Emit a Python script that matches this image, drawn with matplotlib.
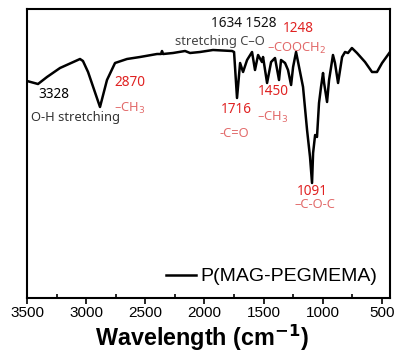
import matplotlib
matplotlib.use("Agg")
import matplotlib.pyplot as plt

# FTIR spectrum of P(MAG-PEGMEMA)
wavenumber = [3500, 3407, 3331, 3221, 3052, 3027, 2984, 2883, 2824, 2756, 2655, 2545,
              2401, 2367, 2359, 2350, 2266, 2164, 2122, 2038, 1928, 1767, 1750, 1725,
              1699, 1674, 1640, 1598, 1573, 1547, 1514, 1505, 1471, 1437, 1404, 1370,
              1353, 1319, 1294, 1268, 1251, 1226, 1209, 1167, 1133, 1108, 1091, 1082,
              1065, 1049, 1032, 1015, 998, 989, 964, 947, 914, 897, 871, 837, 812, 787,
              754, 711, 643, 584, 542, 499, 432]
transmittance = [217, 214, 221, 230, 239, 237, 226, 191, 218, 235, 239, 241,
                 244, 244, 247, 244, 245, 247, 245, 246, 248, 247, 246, 200,
                 235, 226, 238, 246, 228, 243, 236, 241, 215, 236, 240, 218,
                 238, 235, 228, 213, 231, 246, 236, 211, 168, 141, 115, 145,
                 163, 161, 195, 211, 225, 215, 196, 218, 243, 235, 215, 241, 246, 245,
                 250, 245, 236, 226, 226, 235, 246]

peak_labels = ["3328", "2870", "1634 1528", "1248", "1716", "1450", "1091"]
group_labels = ["O-H stretching", "\u2013CH$_3$", "stretching C\u2013O", "\u2013COOCH$_2$",
                "-C=O", "\u2013CH$_3$", "\u2013C-O-C"]
series_name = "P(MAG-PEGMEMA)"
xticks = [3500, 3000, 2500, 2000, 1500, 1000, 500]

W, H = 397, 360
fig = plt.figure(figsize=(W / 100, H / 100), dpi=100)
ax = fig.add_axes([27 / W, 1 - 298 / H, (390 - 27) / W, (298 - 9) / H])

ax.plot(wavenumber, transmittance, color="black", lw=1.8, label=series_name)
ax.set_xlim(3500, 432)
ax.set_ylim(0, 289)
ax.set_yticks([])
ax.set_xticks(xticks)
ax.set_xticklabels([str(t) for t in xticks], fontsize=11, family="Liberation Sans")
ax.set_xticks([3250, 2750, 2250, 1750, 1250, 750], minor=True)
ax.tick_params(axis="x", which="major", direction="out", length=4, width=1.2, pad=2)
ax.tick_params(axis="x", which="minor", direction="in", length=3, width=1.2)
for s in ax.spines.values():
    s.set_linewidth(1.5)

ax.set_xlabel("Wavelength (cm$^{\\mathbf{-1}}$)", fontsize=16.8, fontweight="bold",
              family="Liberation Sans")
ax.xaxis.set_label_coords(0.483, -0.085)

def px(x, y):
    return (3500 - (x - 27) * 8.453, 298 - y)

RED = "#e02222"
LRED = "#e26a6a"
font = "Noto Sans"
fs = 9.8

# peak numbers
num_pos = [(54, 95, "black"), (130, 83, RED), (244, 24, "#111111"), (298, 29, RED),
           (236, 110, RED), (273, 92, RED), (312, 192, RED)]
for lab, (x, y, c) in zip(peak_labels, num_pos):
    ax.text(*px(x, y), lab, color=c, fontsize=fs, family=font, ha="center", va="center")

grp_pos = [(75, 118, "#333333"), (130, 108, LRED), (220, 42, "#444444"), (297, 48, LRED),
           (234, 134, LRED), (273, 117, LRED), (315, 205, LRED)]
for lab, (x, y, c) in zip(group_labels, grp_pos):
    ax.text(*px(x, y), lab, color=c, fontsize=9.3, family=font, ha="center", va="center")

leg = ax.legend(loc="lower right", frameon=False, prop={"family": "Liberation Sans", "size": 14},
                handlelength=1.5, handletextpad=0.25, borderaxespad=0.25,
                bbox_to_anchor=(1.0, 0.0))

fig.savefig("out.png", dpi=100)
